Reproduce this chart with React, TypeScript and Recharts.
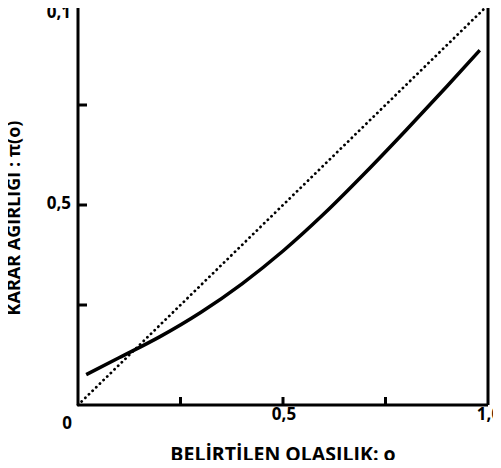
import React from "react";
import { LineChart, Line, XAxis, YAxis, ReferenceLine } from "recharts";

const statedProb = [0.02, 0.1, 0.2, 0.3, 0.4, 0.5, 0.6, 0.7, 0.8, 0.9, 0.98];
const decisionWeight = [0.076, 0.118, 0.171, 0.232, 0.303, 0.385, 0.478, 0.58, 0.687, 0.797, 0.887];
const diagX = [0, 1];
const xTicks = [0, 0.25, 0.5, 0.75, 1];
const xTickLabels = ["0", "", "0,5", "", "1,0"];
const yTicks = [0, 0.25, 0.5, 0.75, 1];
const yTickLabels = ["", "", "0,5", "", "0,1"];
const xTitle = "BELİRTİLEN OLASILIK: o";
const yTitle = "KARAR AĞIRLIĞI : π(o)";

const curveData = statedProb.map((x, i) => ({ x, y: decisionWeight[i] }));
const diagData = diagX.map((x) => ({ x, d: x }));

const FONT = "'Open Sans', 'DejaVu Sans', sans-serif";
const PLOT_BOTTOM = 405;

const XTick = (props: any) => {
  const { x, payload, index } = props;
  const label = xTickLabels[index] ?? "";
  const isZero = payload.value === 0;
  return (
    <g>
      {!isZero && payload.value !== 1 && (
        <line x1={x} y1={PLOT_BOTTOM - 1} x2={x} y2={PLOT_BOTTOM - 8} stroke="#000" strokeWidth={3} />
      )}
      <text
        x={isZero ? x - 11 : x + 1}
        y={isZero ? PLOT_BOTTOM + 24 : PLOT_BOTTOM + 15}
        textAnchor="middle"
        fontFamily={FONT}
        fontWeight={700}
        fontSize={17}
        fill="#000"
      >
        {label}
      </text>
    </g>
  );
};

const YTick = (props: any) => {
  const { y, payload, index } = props;
  const label = yTickLabels[index] ?? "";
  const showLine = payload.value !== 0 && payload.value !== 1;
  return (
    <g>
      {showLine && (
        <line x1={79} y1={y} x2={87} y2={y} stroke="#000" strokeWidth={3} />
      )}
      <text
        x={71}
        y={payload.value === 1 ? y + 13 : y + 4}
        textAnchor="end"
        fontFamily={FONT}
        fontWeight={700}
        fontSize={17}
        fill="#000"
      >
        {label}
      </text>
    </g>
  );
};

const XTitle = () => (
  <text x={283} y={461} textAnchor="middle" fontFamily={FONT} fontWeight={700} fontSize={19.5} fill="#000">
    {xTitle}
  </text>
);

const YTitle = () => (
  <text
    x={20}
    y={218}
    transform="rotate(-90 20 218)"
    textAnchor="middle"
    fontFamily={FONT}
    fontWeight={700}
    fontSize={18}
    fill="#000"
  >
    {yTitle}
  </text>
);

export default function App() {
  return (
    <div style={{ margin: "-8px", width: 501, height: 468, background: "#fff" }}>
      <LineChart width={501} height={468} margin={{ top: 5, right: 13, left: 0, bottom: 0 }}>
        <XAxis
          type="number"
          dataKey="x"
          domain={[0, 1]}
          ticks={xTicks}
          tick={<XTick />}
          tickLine={false}
          axisLine={{ stroke: "#000", strokeWidth: 3 }}
          height={63}
          interval={0}
          label={<XTitle />}
        />
        <YAxis
          type="number"
          domain={[0, 1]}
          ticks={yTicks}
          tick={<YTick />}
          tickLine={false}
          axisLine={{ stroke: "#000", strokeWidth: 3 }}
          width={78}
          interval={0}
          label={<YTitle />}
        />
        <ReferenceLine y={1} stroke="#000" strokeWidth={3} />
        <ReferenceLine x={1} stroke="#000" strokeWidth={3} />
        <Line
          data={diagData}
          dataKey="d"
          type="linear"
          stroke="#000"
          strokeWidth={2.8}
          strokeDasharray="0.1 5"
          strokeLinecap="round"
          dot={false}
          isAnimationActive={false}
        />
        <Line
          data={curveData}
          dataKey="y"
          type="monotone"
          stroke="#000"
          strokeWidth={3.5}
          dot={false}
          isAnimationActive={false}
        />
      </LineChart>
    </div>
  );
}
